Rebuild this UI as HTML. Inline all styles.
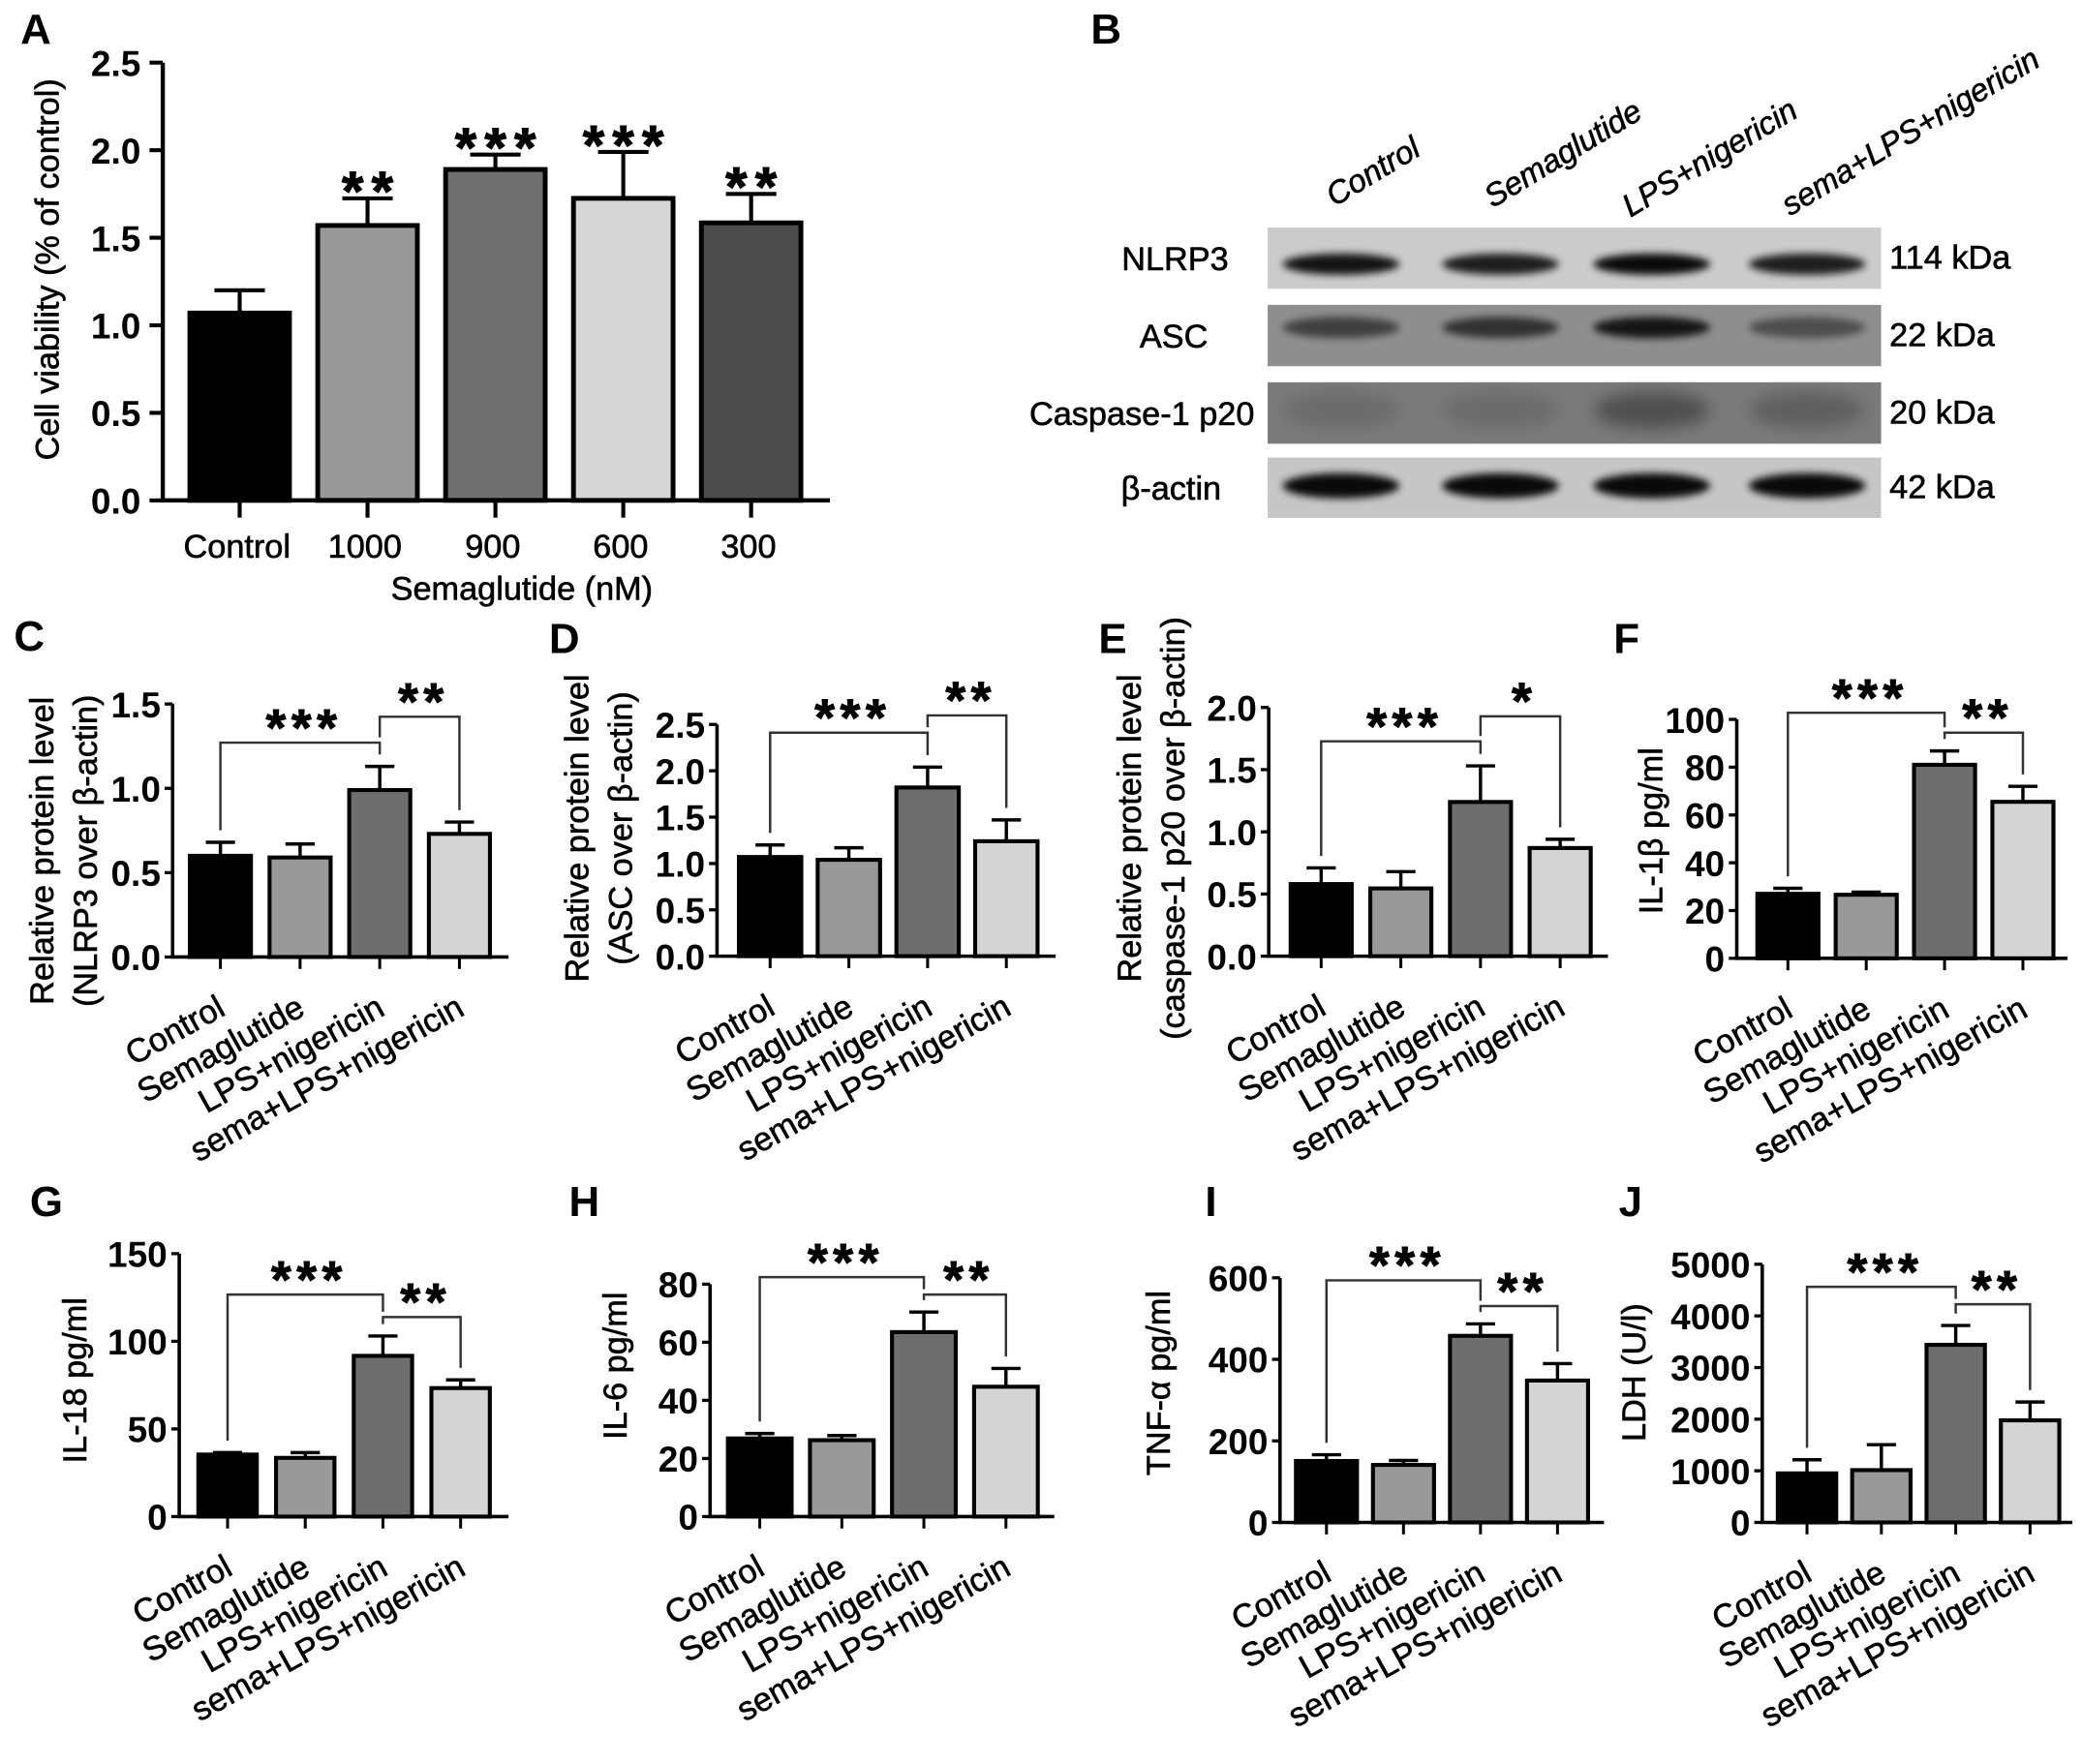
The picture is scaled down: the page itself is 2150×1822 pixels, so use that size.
<!DOCTYPE html>
<html>
<head>
<meta charset="utf-8">
<style>
html,body{margin:0;padding:0;background:#fff;}
svg{display:block;}
text{font-family:"Liberation Sans", Arial, sans-serif;}
.th{stroke:#000;stroke-width:0.45px;}
</style>
</head>
<body>
<svg id="fig" xmlns="http://www.w3.org/2000/svg" width="2150" height="1822" viewBox="0 0 1568 1329" preserveAspectRatio="none">
<defs>
<filter id="blur3" x="-20%" y="-50%" width="140%" height="200%"><feGaussianBlur stdDeviation="3"/></filter>
<filter id="blur6" x="-30%" y="-80%" width="160%" height="260%"><feGaussianBlur stdDeviation="6"/></filter>
</defs>
<rect x="0" y="0" width="1568" height="1329" fill="#fff"/>
</svg>
<script>
// ---------- data ----------
const groups = ["Control","Semaglutide","LPS+nigericin","sema+LPS+nigericin"];
const aCats = ["Control","1000","900","600","300"];
const aMeans = [1.07,1.57,1.89,1.725,1.585];
const aErrTop = [1.20,1.725,1.975,1.99,1.75];
const aStars = ["","**","***","***","**"];
const aTicks = [0,0.5,1.0,1.5,2.0,2.5];

const cMeans=[0.60,0.59,0.99,0.73], cErr=[0.68,0.67,1.13,0.80], cTicks=[0,0.5,1.0,1.5];
const dMeans=[1.07,1.04,1.82,1.24], dErr=[1.20,1.17,2.04,1.47], dTicks=[0,0.5,1.0,1.5,2.0,2.5];
const eMeans=[0.58,0.545,1.24,0.87], eErr=[0.71,0.68,1.53,0.94], eTicks=[0,0.5,1.0,1.5,2.0];
const fMeans=[27,26.6,81,65.5], fErr=[29.3,27.7,86.8,72], fTicks=[0,20,40,60,80,100];
const gMeans=[35.4,33.5,91.7,73.3], gErr=[36.5,36.5,103,78], gTicks=[0,50,100,150];
const hMeans=[26.9,26.3,63.5,44.7], hErr=[28.6,27.9,70.4,51], hTicks=[0,20,40,60,80];
const iMeans=[150.7,141,457.7,348], iErr=[166,152,487,389.6], iTicks=[0,200,400,600];
const jMeans=[950,1013,3440,1977], jErr=[1214,1506,3815,2332], jTicks=[0,1000,2000,3000,4000,5000];
const starsCDJ = ["***","**"];
const starsE = ["***","*"];

const blotRows = ["NLRP3","ASC","Caspase-1 p20","β-actin"];
const blotKDa = ["114 kDa","22 kDa","20 kDa","42 kDa"];
const bandNLRP3=[0.9,0.85,0.95,0.85], bandASC=[0.55,0.65,0.85,0.45], bandCasp=[0.12,0.12,0.35,0.22], bandActin=[0.95,0.95,0.95,0.95];

// ---------- helpers ----------
const NS="http://www.w3.org/2000/svg";
const svg=document.getElementById('fig');
const grays=["#000000","#999999","#6e6e6e","#d4d4d4"];
const aGrays=["#000000","#989898","#707070","#d6d6d6","#4c4c4c"];
function mk(tag,attrs,parent){const e=document.createElementNS(NS,tag);for(const k in attrs)e.setAttribute(k,attrs[k]);(parent||svg).appendChild(e);return e;}
function txt(s,attrs,parent){const e=mk('text',attrs,parent);e.textContent=s;return e;}
function fmt(v,dec){return v.toFixed(dec);}

// ---------- Panel A ----------
(function(){
  const g=mk('g',{});
  
  
  const ax=122.6, y0=377, yT=47.2, vmax=2.5, first=180.5, sp=96.3, bw=75, axEnd=625;
  const y=v=>y0-v/vmax*(y0-yT);
  const L=txt('A',{x:27,y:33,'font-size':32,'font-weight':'bold','text-anchor':'middle'},g);
  
  
  aCats.forEach((c,i)=>{
    const cx=first+i*sp;
    const r=mk('rect',{x:cx-bw/2,y:y(aMeans[i]),width:bw,height:y0-y(aMeans[i]),fill:aGrays[i],stroke:'#000','stroke-width':3.6},g);
    
    
    const e=mk('path',{d:`M${cx} ${y(aMeans[i])}V${y(aErrTop[i])}M${cx-19} ${y(aErrTop[i])}H${cx+19}`,stroke:'#000','stroke-width':3,fill:'none'},g);
    
    
    const t=mk('line',{x1:cx,x2:cx,y1:y0,y2:y0+13,stroke:'#000','stroke-width':3},g);
    
    
    const l=txt(c,{x:cx-2,y:420,'font-size':25,'text-anchor':'middle','class':'th'},g);
    
    
    if(aStars[i]){
      const s=txt(aStars[i],{x:cx+3,y:y(aErrTop[i])-15+24,'font-size':42,'font-weight':'bold','text-anchor':'middle','letter-spacing':6,stroke:'#000','stroke-width':0.8},g);
      
      
    }
  });
  const axis=mk('path',{d:`M${ax} ${yT}V${y0}H${axEnd}`,stroke:'#000','stroke-width':3.2,fill:'none'},g);
  
  
  aTicks.forEach(v=>{
    const t=mk('line',{x1:ax-10,x2:ax,y1:y(v),y2:y(v),stroke:'#000','stroke-width':3},g);
    
    
    const l=txt(fmt(v,1),{x:106,y:y(v)+10,'font-size':27,'font-weight':'bold','text-anchor':'end'},g);
    
    
  });
  const yt=txt('Cell viability (% of control)',{x:0,y:0,'font-size':25,'text-anchor':'middle','class':'th',transform:'translate(44,203) rotate(-90)'},g);
  
  
  const xt=txt('Semaglutide (nM)',{x:393,y:452,'font-size':25,'text-anchor':'middle','class':'th'},g);
  
  
})();

// ---------- Panel B (western blot) ----------
(function(){
  const g=mk('g',{});
  
  
  const L=txt('B',{x:833,y:33,'font-size':32,'font-weight':'bold','text-anchor':'middle'},g);
  
  
  const lanes=[1010,1130,1244,1361];
  const labStart=[[1005,156],[1124,157],[1228,164],[1348,163]];
  groups.forEach((c,i)=>{
    const t=txt(c,{x:0,y:0,'font-size':24,'font-style':'italic','class':'th',transform:`translate(${labStart[i][0]},${labStart[i][1]}) rotate(-31)`},g);
    
    
  });
  const rows=[{y:171.4,h:46.2,bg:'#cbcbcb',by:199,bh:12,op:bandNLRP3,f:'blur3'},
              {y:229.7,h:46.2,bg:'#8e8e8e',by:246.7,bh:12,op:bandASC,f:'blur3'},
              {y:288,h:46.3,bg:'#7b7b7b',by:309,bh:24,op:bandCasp,f:'blur6'},
              {y:344.7,h:45.5,bg:'#c6c6c6',by:366,bh:15,op:bandActin,f:'blur3'}];
  const labCx=[885,884,860,882];
  rows.forEach((r,k)=>{
    const s=mk('rect',{x:954.7,y:r.y,width:462,height:r.h,fill:r.bg},g);
    
    
    lanes.forEach((cx,i)=>{
      const b=mk('ellipse',{cx:cx,cy:r.by,rx:44,ry:r.bh/2+2,fill:'#000',opacity:r.op[i],filter:`url(#${r.f})`},g);
      
      
    });
    const rl=txt(blotRows[k],{x:labCx[k],y:r.y+r.h/2+9,'font-size':25,'text-anchor':'middle','class':'th'},g);
    
    
    const kl=txt(blotKDa[k],{x:1423,y:r.y+r.h/2+8,'font-size':25,'class':'th'},g);
    
    
  });
})();

// ---------- small bar panels ----------
function panel(cfg,means,errs,ticks,stars){
  const g=mk('g',{});
  
  
  const y=v=>cfg.y0-v/cfg.vmax*(cfg.y0-cfg.yT);
  const cxs=means.map((_,i)=>cfg.ax+cfg.first+i*cfg.sp);
  const L=txt(cfg.letter,{x:cfg.lx,y:cfg.ly+11,'font-size':32,'font-weight':'bold','text-anchor':'middle'},g);
  
  
  means.forEach((m,i)=>{
    const cx=cxs[i], bw=cfg.bw;
    const r=mk('rect',{x:cx-bw/2,y:y(m),width:bw,height:cfg.y0-y(m),fill:grays[i],stroke:'#000','stroke-width':3},g);
    
    
    const e=mk('path',{d:`M${cx} ${y(m)}V${y(errs[i])}M${cx-11} ${y(errs[i])}H${cx+11}`,stroke:'#000','stroke-width':2.5,fill:'none'},g);
    
    
    const t=mk('line',{x1:cx,x2:cx,y1:cfg.y0,y2:cfg.y0+9,stroke:'#000','stroke-width':2.2},g);
    
    
    const l=txt(groups[i],{x:0,y:0,'font-size':25,'text-anchor':'end','class':'th',transform:`translate(${cx+5},${cfg.y0+43}) rotate(-29)`},g);
    
    
  });
  const axis=mk('path',{d:`M${cfg.ax} ${cfg.yT}V${cfg.y0}H${cfg.axEnd}`,stroke:'#000','stroke-width':2.6,fill:'none'},g);
  
  
  ticks.forEach(v=>{
    const t=mk('line',{x1:cfg.ax-6,x2:cfg.ax,y1:y(v),y2:y(v),stroke:'#000','stroke-width':2.4},g);
    
    
    const l=txt(fmt(v,cfg.dec),{x:cfg.ax-9,y:y(v)+10,'font-size':27,'font-weight':'bold','text-anchor':'end'},g);
    
    
  });
  cfg.title.forEach((tt,k)=>{
    const yt=txt(tt,{x:0,y:0,'font-size':25,'text-anchor':'middle','class':'th',transform:`translate(${cfg.tx[k]+9},${cfg.ty}) rotate(-90)`},g);
    
    
  });
  // brackets
  const gap=9;
  const b1=cfg.b1, b2=cfg.b2;
  const leg1R = b1<b2 ? b2-4 : y(errs[2])-gap;
  const leg2L = b2<b1 ? b1-4 : y(errs[2])-gap;
  const p1=mk('path',{d:`M${cxs[0]} ${y(errs[0])-gap}V${b1}H${cxs[2]}V${leg1R}`,stroke:'#333','stroke-width':1.8,fill:'none'},g);
  
  
  const p2=mk('path',{d:`M${cxs[2]} ${leg2L}V${b2}H${cxs[3]}V${y(errs[3])-gap}`,stroke:'#333','stroke-width':1.8,fill:'none'},g);
  
  
  const s1=txt(stars[0],{x:(cxs[0]+cxs[2])/2+3,y:b1-20+22,'font-size':39,'font-weight':'bold','text-anchor':'middle','letter-spacing':4,stroke:'#000','stroke-width':0.7},g);
  
  
  const s2=txt(stars[1],{x:(cxs[2]+cxs[3])/2+3,y:b2-20+22,'font-size':39,'font-weight':'bold','text-anchor':'middle','letter-spacing':4,stroke:'#000','stroke-width':0.7},g);
  
  
}

panel({id:'c',letter:'C',lx:22,ly:479,ax:130,y0:721,yT:530.4,vmax:1.5,dec:1,first:36,sp:60,bw:46,axEnd:383,b1:559.5,b2:540,
  title:['Relative protein level','(NLRP3 over β-actin)'],tx:[31,64],ty:641},cMeans,cErr,cTicks,starsCDJ);
panel({id:'d',letter:'D',lx:425,ly:481,ax:540,y0:720.4,yT:545.8,vmax:2.5,dec:1,first:40,sp:59.3,bw:47,axEnd:795,b1:552,b2:539,
  title:['Relative protein level','(ASC over β-actin)'],tx:[434,467],ty:624},dMeans,dErr,dTicks,starsCDJ);
panel({id:'e',letter:'E',lx:838,ly:481,ax:955.5,y0:720.4,yT:533,vmax:2.0,dec:1,first:39.5,sp:60,bw:46,axEnd:1211,b1:558.5,b2:539.7,
  title:['Relative protein level','(caspase-1 p20 over β-actin)'],tx:[850,883],ty:624},eMeans,eErr,eTicks,starsE);
panel({id:'f',letter:'F',lx:1225,ly:481,ax:1308,y0:722,yT:542,vmax:100,dec:0,first:38.5,sp:59,bw:46,axEnd:1557,b1:537,b2:552,
  title:['IL-1β pg/ml'],tx:[1243],ty:626},fMeans,fErr,fTicks,starsCDJ);
panel({id:'g',letter:'G',lx:35,ly:905,ax:135,y0:1142.6,yT:944.5,vmax:150,dec:0,first:36.4,sp:58.5,bw:44,axEnd:383,b1:975.3,b2:992.3,
  title:['IL-18 pg/ml'],tx:[56],ty:1040},gMeans,gErr,gTicks,starsCDJ);
panel({id:'h',letter:'H',lx:440,ly:905,ax:534.8,y0:1142.6,yT:967.5,vmax:80,dec:0,first:37.4,sp:61.8,bw:48,axEnd:794,b1:962.2,b2:975.3,
  title:['IL-6 pg/ml'],tx:[463],ty:1029},hMeans,hErr,hTicks,starsCDJ);
panel({id:'i',letter:'I',lx:912,ly:905,ax:964,y0:1147,yT:962.7,vmax:600,dec:0,first:35,sp:58,bw:46,axEnd:1208,b1:964.6,b2:984,
  title:['TNF-α pg/ml'],tx:[872],ty:1042},iMeans,iErr,iTicks,starsCDJ);
panel({id:'j',letter:'J',lx:1228,ly:905,ax:1327.2,y0:1147,yT:952.5,vmax:5000,dec:0,first:33.7,sp:56,bw:44,axEnd:1560.7,b1:969.5,b2:982.6,
  title:['LDH (U/l)'],tx:[1230],ty:1034},jMeans,jErr,jTicks,starsCDJ);
</script>
</body>
</html>
